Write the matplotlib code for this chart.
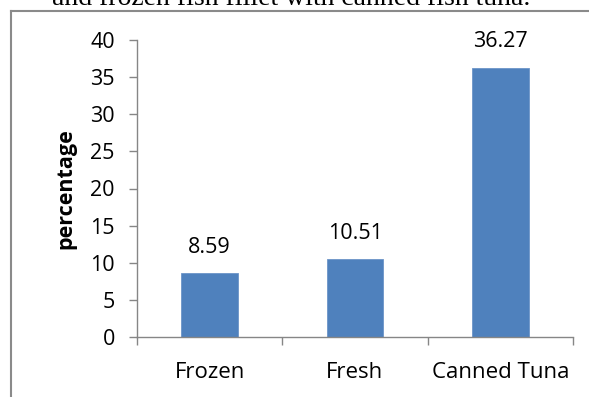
import matplotlib.pyplot as plt
from matplotlib.lines import Line2D
import numpy as np

categories = ["Frozen", "Fresh", "Canned Tuna"]
values = [8.59, 10.51, 36.27]
value_labels = ["8.59", "10.51", "36.27"]
yticks = [0, 5, 10, 15, 20, 25, 30, 35, 40]

plt.rcParams['font.family'] = ['Open Sans', 'DejaVu Sans']

fig = plt.figure(figsize=(5.89, 3.97), dpi=100)
ax = fig.add_axes([137 / 589, 1 - 337 / 397, 436 / 589, 297 / 397])

x = np.arange(len(categories))
bars = ax.bar(x, values, width=0.39, color="#4F81BD", edgecolor="#6C94C8", linewidth=0.6)

for xi, v, lab in zip(x, values, value_labels):
    ax.annotate(lab, (xi, v), xytext=(0, 11), textcoords="offset points",
                ha="center", va="bottom", fontsize=15.5)

ax.set_xlim(-0.5, 2.5)
ax.set_ylim(0, 40)
ax.set_yticks(yticks)
ax.set_yticklabels([str(t) for t in yticks], fontsize=15.5)

# category labels at centres, tick marks on the boundaries
ax.set_xticks(x)
ax.set_xticklabels(categories, fontsize=16)
ax.tick_params(axis="x", which="major", length=0, pad=18)
ax.set_xticks([-0.5, 0.5, 1.5, 2.5], minor=True)
ax.tick_params(axis="x", which="minor", length=6, color="#868686", width=1)
ax.tick_params(axis="y", length=6, color="#868686", width=1, pad=10)

for s in ["top", "right"]:
    ax.spines[s].set_visible(False)
for s in ["left", "bottom"]:
    ax.spines[s].set_color("#868686")
    ax.spines[s].set_linewidth(1)

ax.set_ylabel("percentage", fontsize=15.5, fontweight="bold", labelpad=10)

# frame of the chart box (cut at right and bottom)
fig.add_artist(Line2D([11 / 589, 11 / 589], [0, 1 - 11 / 397], color="#8a8a8a", lw=1.5))
fig.add_artist(Line2D([11 / 589, 1], [1 - 11 / 397, 1 - 11 / 397], color="#8a8a8a", lw=1.5))

# caption of the document, cut off at the top as in the source
fig.text(52 / 589, 1 - 5 / 397, "and frozen fish fillet with canned fish tuna.",
         family="Liberation Serif", fontsize=20, ha="left", va="baseline")

fig.savefig("out.png", dpi=100)
